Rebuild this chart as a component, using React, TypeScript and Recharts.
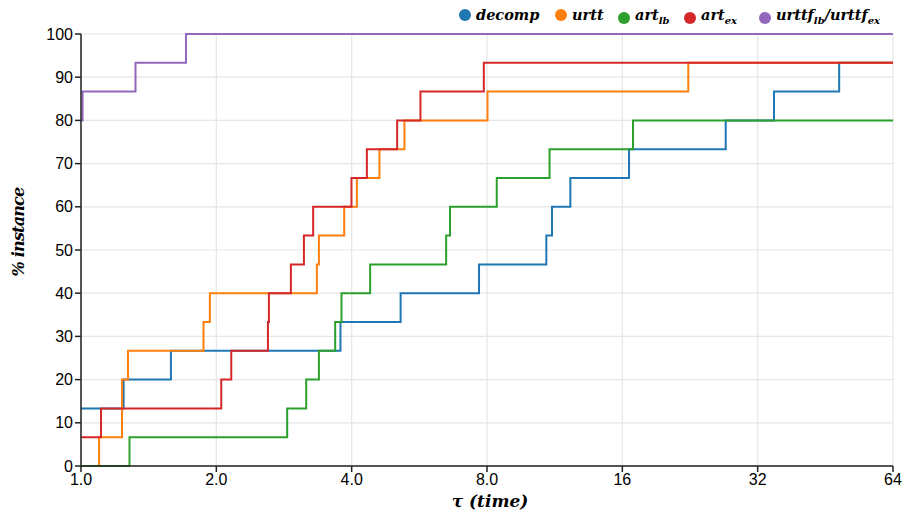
import type { ReactNode } from "react";
import { CartesianGrid, Line, LineChart, XAxis, YAxis } from "recharts";

const tauTicks = [1, 2, 4, 8, 16, 32, 64];
const pctTicks = [0, 10, 20, 30, 40, 50, 60, 70, 80, 90, 100];

const decompTau = [1, 1.244, 1.585, 3.777, 5.14, 7.68, 10.84, 11.16, 12.26, 16.56, 27.17, 34.79, 48.58, 64];
const decompPct = [13.33, 20, 26.67, 33.33, 40, 46.67, 53.33, 60, 66.67, 73.33, 80, 86.67, 93.33, 93.33];

const urttTau = [1, 1.097, 1.234, 1.272, 1.873, 1.935, 3.347, 3.382, 3.85, 4.108, 4.612, 5.242, 8.02, 22.43, 64];
const urttPct = [0, 6.67, 20, 26.67, 33.33, 40, 46.67, 53.33, 60, 66.67, 73.33, 80, 86.67, 93.33, 93.33];

const artLbTau = [1, 1.282, 2.875, 3.169, 3.382, 3.676, 3.797, 4.397, 6.49, 6.62, 8.41, 11.02, 16.9, 64];
const artLbPct = [0, 6.67, 13.33, 20, 26.67, 33.33, 40, 46.67, 53.33, 60, 66.67, 73.33, 80, 80];

const artExTau = [1, 1.108, 2.051, 2.159, 2.605, 2.618, 2.93, 3.132, 3.284, 3.996, 4.324, 5.049, 5.689, 7.87, 64];
const artExPct = [6.67, 13.33, 20, 26.67, 33.33, 40, 46.67, 53.33, 60, 66.67, 73.33, 80, 86.67, 93.33, 93.33];

const urttfTau = [1, 1.008, 1.322, 1.712, 64];
const urttfPct = [80, 86.67, 93.33, 100, 100];

type Series = {
  key: string;
  label: ReactNode;
  color: string;
  left: number;
  tau: number[];
  pct: number[];
};

const subStyle = { fontSize: 10 };

const series: Series[] = [
  { key: "decomp", label: "decomp", color: "#1f77b4", left: 459, tau: decompTau, pct: decompPct },
  { key: "urtt", label: "urtt", color: "#ff7f0e", left: 555, tau: urttTau, pct: urttPct },
  {
    key: "artlb",
    label: (
      <>
        art<sub style={subStyle}>lb</sub>
      </>
    ),
    color: "#2ca02c",
    left: 618,
    tau: artLbTau,
    pct: artLbPct,
  },
  {
    key: "artex",
    label: (
      <>
        art<sub style={subStyle}>ex</sub>
      </>
    ),
    color: "#d62728",
    left: 684,
    tau: artExTau,
    pct: artExPct,
  },
  {
    key: "urttf",
    label: (
      <>
        urttf<sub style={subStyle}>lb</sub>/urttf<sub style={subStyle}>ex</sub>
      </>
    ),
    color: "#9467bd",
    left: 759,
    tau: urttfTau,
    pct: urttfPct,
  },
];

const serif = "'DejaVu Serif', serif";
const tickStyle = { fontFamily: "'Liberation Sans', Arial, sans-serif", fontSize: 16, fill: "#000" };

const formatTau = (t: number) => (t < 10 ? t.toFixed(1) : String(t));

export default function App() {
  return (
    <div style={{ position: "absolute", left: 0, top: 0, width: 904, height: 518, background: "#fff" }}>
      <LineChart width={904} height={518} margin={{ top: 34, right: 11, bottom: 22, left: 0 }}>
        <CartesianGrid stroke="#e6e6e6" strokeWidth={1.2} />
        <XAxis
          type="number"
          dataKey="t"
          scale="log"
          domain={[1, 64]}
          ticks={tauTicks}
          tickFormatter={formatTau}
          allowDataOverflow
          height={30}
          tick={tickStyle}
          tickSize={6}
          stroke="#222"
          strokeWidth={1.5}
        />
        <YAxis
          type="number"
          domain={[0, 100]}
          ticks={pctTicks}
          width={81}
          tick={tickStyle}
          tickSize={6}
          stroke="#222"
          strokeWidth={1.5}
        />
        {series.map((s) => (
          <Line
            key={s.key}
            data={s.tau.map((t, i) => ({ t, v: s.pct[i] }))}
            dataKey="v"
            type="stepAfter"
            stroke={s.color}
            strokeWidth={2}
            dot={false}
            isAnimationActive={false}
          />
        ))}
      </LineChart>

      {series.map((s) => (
        <div
          key={s.key}
          style={{
            position: "absolute",
            left: s.left,
            top: 4,
            display: "flex",
            alignItems: "center",
            fontFamily: serif,
            fontStyle: "italic",
            fontWeight: "bold",
            fontSize: 14.5,
            lineHeight: "22px",
            whiteSpace: "nowrap",
          }}
        >
          <span
            style={{
              display: "inline-block",
              width: 12,
              height: 12,
              borderRadius: 6,
              background: s.color,
              marginRight: 5,
            }}
          />
          <span>{s.label}</span>
        </div>
      ))}

      <div
        style={{
          position: "absolute",
          left: 18,
          top: 232,
          transform: "translate(-50%, -50%) rotate(-90deg)",
          fontFamily: serif,
          fontStyle: "italic",
          fontWeight: "bold",
          fontSize: 16,
          letterSpacing: -0.8,
          whiteSpace: "nowrap",
        }}
      >
        % instance
      </div>
      <div
        style={{
          position: "absolute",
          left: 490,
          top: 501,
          transform: "translate(-50%, -50%)",
          fontFamily: serif,
          fontStyle: "italic",
          fontWeight: "bold",
          fontSize: 17,
          whiteSpace: "nowrap",
        }}
      >
        τ (time)
      </div>
    </div>
  );
}
